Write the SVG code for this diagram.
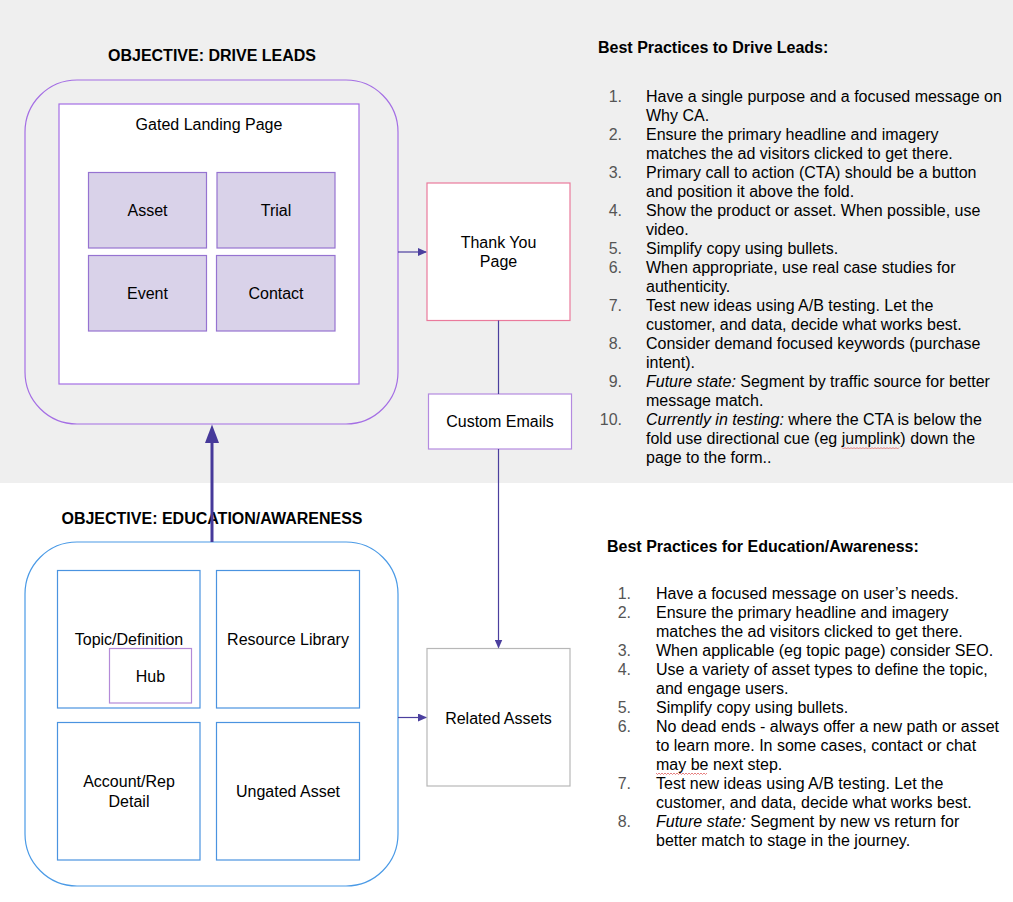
<svg xmlns="http://www.w3.org/2000/svg" width="1013" height="902" viewBox="0 0 1013 902">
<style>
text{font-family:"Liberation Sans",Arial,sans-serif;font-size:16px;fill:#000}
.c{text-anchor:middle}
.b{font-weight:bold}
.n{text-anchor:end;fill:#555}
.i{font-style:italic}
.tile{fill:#d9d2e9;stroke:#9673d1;stroke-width:1.2}
.blue{fill:#fff;stroke:#4a93e0;stroke-width:1.2}
.conn{stroke:#4b3f9e;stroke-width:1.2;fill:none}
</style>
<defs>
<marker id="ah" markerWidth="9" markerHeight="8" refX="8" refY="4" orient="auto" markerUnits="userSpaceOnUse">
<path d="M0,0 L9,4 L0,8 z" fill="#4b3f9e"/>
</marker>
</defs>
<rect x="0" y="0" width="1013" height="483" fill="#efefef"/>

<text class="b c" x="212" y="61">OBJECTIVE: DRIVE LEADS</text>
<text class="b c" x="212" y="524">OBJECTIVE: EDUCATION/AWARENESS</text>

<g id="drive-leads">
<rect x="25" y="80" width="373" height="344" rx="52" fill="none" stroke="#a46ee4" stroke-width="1.2"/>
</g>
<g id="gated-landing-page">
<rect x="59" y="104" width="300" height="280" fill="#fff" stroke="#a46ee4" stroke-width="1.2"/>
<text class="c" x="209" y="130">Gated Landing Page</text>
</g>
<g id="asset"><rect class="tile" x="88.5" y="172.5" width="118" height="75.5"/><text class="c" x="147.5" y="216">Asset</text></g>
<g id="trial"><rect class="tile" x="217" y="172.5" width="118" height="75.5"/><text class="c" x="276" y="216">Trial</text></g>
<g id="event"><rect class="tile" x="88.5" y="255.5" width="118" height="75.5"/><text class="c" x="147.5" y="299">Event</text></g>
<g id="contact"><rect class="tile" x="216.5" y="255.5" width="118.5" height="75.5"/><text class="c" x="276" y="299">Contact</text></g>

<g id="thank-you">
<rect x="427" y="183" width="143" height="137.5" fill="#fff" stroke="#ea7a9c" stroke-width="1.2"/>
<text class="c" x="498.5" y="248">Thank You</text>
<text class="c" x="498.5" y="267">Page</text>
</g>
<g id="custom-emails">
<rect x="428.5" y="394" width="143" height="55" fill="#fff" stroke="#b48ae0" stroke-width="1.2"/>
<text class="c" x="500" y="427">Custom Emails</text>
</g>
<g id="related-assets">
<rect x="427" y="648.5" width="143" height="137.5" fill="#fff" stroke="#b7b7b7" stroke-width="1.2"/>
<text class="c" x="498.5" y="724">Related Assets</text>
</g>

<g id="education">
<rect x="25" y="542" width="373" height="344" rx="52" fill="#fff" stroke="#4a9ae6" stroke-width="1.2"/>
</g>
<g id="topic"><rect class="blue" x="57.5" y="570.5" width="142.5" height="137.5"/><text class="c" x="129" y="645">Topic/Definition</text></g>
<g id="hub"><rect x="109.5" y="648.5" width="82" height="54.5" fill="#fff" stroke="#b48ad8" stroke-width="1.2"/><text class="c" x="150.5" y="682">Hub</text></g>
<g id="resource-library"><rect class="blue" x="216.5" y="570.5" width="143" height="137.5"/><text class="c" x="288" y="645">Resource Library</text></g>
<g id="account-rep"><rect class="blue" x="57.5" y="722.5" width="142.5" height="137.5"/><text class="c" x="129" y="787">Account/Rep</text><text class="c" x="129" y="806.5">Detail</text></g>
<g id="ungated-asset"><rect class="blue" x="216.5" y="722.5" width="143" height="137.5"/><text class="c" x="288" y="797">Ungated Asset</text></g>

<g id="connectors">
<line class="conn" x1="398" y1="252" x2="426" y2="252" marker-end="url(#ah)"/>
<line class="conn" x1="498.5" y1="320.5" x2="498.5" y2="394"/>
<line class="conn" x1="498.5" y1="449" x2="498.5" y2="647.5" marker-end="url(#ah)"/>
<line class="conn" x1="398" y1="717.5" x2="426" y2="717.5" marker-end="url(#ah)"/>
<line x1="212" y1="542" x2="212" y2="440" stroke="#46399a" stroke-width="3"/>
<path d="M205,443 L219,443 L212,424.5 z" fill="#46399a"/>
</g>

<g id="drive-leads-practices">
<text class="b" x="598" y="53">Best Practices to Drive Leads:</text>
<text class="n" x="622" y="101.5">1.</text><text x="646" y="101.5">Have a single purpose and a focused message on</text>
<text x="646" y="120.5">Why CA.</text>
<text class="n" x="622" y="139.5">2.</text><text x="646" y="139.5">Ensure the primary headline and imagery</text>
<text x="646" y="158.5">matches the ad visitors clicked to get there.</text>
<text class="n" x="622" y="177.5">3.</text><text x="646" y="177.5">Primary call to action (CTA) should be a button</text>
<text x="646" y="196.5">and position it above the fold.</text>
<text class="n" x="622" y="215.5">4.</text><text x="646" y="215.5">Show the product or asset. When possible, use</text>
<text x="646" y="234.5">video.</text>
<text class="n" x="622" y="253.5">5.</text><text x="646" y="253.5">Simplify copy using bullets.</text>
<text class="n" x="622" y="272.5">6.</text><text x="646" y="272.5">When appropriate, use real case studies for</text>
<text x="646" y="291.5">authenticity.</text>
<text class="n" x="622" y="310.5">7.</text><text x="646" y="310.5">Test new ideas using A/B testing. Let the</text>
<text x="646" y="329.5">customer, and data, decide what works best.</text>
<text class="n" x="622" y="348.5">8.</text><text x="646" y="348.5">Consider demand focused keywords (purchase</text>
<text x="646" y="367.5">intent).</text>
<text class="n" x="622" y="386.5">9.</text><text x="646" y="386.5"><tspan class="i">Future state:</tspan> Segment by traffic source for better</text>
<text x="646" y="405.5">message match.</text>
<text class="n" x="622" y="424.5">10.</text><text x="646" y="424.5"><tspan class="i">Currently in testing:</tspan> where the CTA is below the</text>
<text x="646" y="443.5">fold use directional cue (eg jumplink) down the</text>
<text x="646" y="462.5">page to the form..</text>
<path d="M842,447.5 l1.5,1.5 l1.5,-1.5 l1.5,1.5 l1.5,-1.5 l1.5,1.5 l1.5,-1.5 l1.5,1.5 l1.5,-1.5 l1.5,1.5 l1.5,-1.5 l1.5,1.5 l1.5,-1.5 l1.5,1.5 l1.5,-1.5 l1.5,1.5 l1.5,-1.5 l1.5,1.5 l1.5,-1.5 l1.5,1.5 l1.5,-1.5 l1.5,1.5 l1.5,-1.5 l1.5,1.5 l1.5,-1.5 l1.5,1.5 l1.5,-1.5 l1.5,1.5 l1.5,-1.5 l1.5,1.5 l1.5,-1.5 l1.5,1.5 l1.5,-1.5 l1.5,1.5 l1.5,-1.5 l1.5,1.5 l1.5,-1.5 l1.5,1.5 l1.5,-1.5" fill="none" stroke="#e06060" stroke-width="0.8"/>
</g>

<g id="education-practices">
<text class="b" x="607" y="552">Best Practices for Education/Awareness:</text>
<text class="n" x="631" y="598.5">1.</text><text x="656" y="598.5">Have a focused message on user’s needs.</text>
<text class="n" x="631" y="617.5">2.</text><text x="656" y="617.5">Ensure the primary headline and imagery</text>
<text x="656" y="636.5">matches the ad visitors clicked to get there.</text>
<text class="n" x="631" y="655.5">3.</text><text x="656" y="655.5">When applicable (eg topic page) consider SEO.</text>
<text class="n" x="631" y="674.5">4.</text><text x="656" y="674.5">Use a variety of asset types to define the topic,</text>
<text x="656" y="693.5">and engage users.</text>
<text class="n" x="631" y="712.5">5.</text><text x="656" y="712.5">Simplify copy using bullets.</text>
<text class="n" x="631" y="731.5">6.</text><text x="656" y="731.5">No dead ends - always offer a new path or asset</text>
<text x="656" y="750.5">to learn more. In some cases, contact or chat</text>
<text x="656" y="769.5">may be next step.</text>
<text class="n" x="631" y="789">7.</text><text x="656" y="789">Test new ideas using A/B testing. Let the</text>
<text x="656" y="808">customer, and data, decide what works best.</text>
<text class="n" x="631" y="827">8.</text><text x="656" y="827"><tspan class="i">Future state:</tspan> Segment by new vs return for</text>
<text x="656" y="846">better match to stage in the journey.</text>
<path d="M656,773 l1.5,1.5 l1.5,-1.5 l1.5,1.5 l1.5,-1.5 l1.5,1.5 l1.5,-1.5 l1.5,1.5 l1.5,-1.5 l1.5,1.5 l1.5,-1.5 l1.5,1.5 l1.5,-1.5 l1.5,1.5 l1.5,-1.5 l1.5,1.5 l1.5,-1.5 l1.5,1.5 l1.5,-1.5 l1.5,1.5 l1.5,-1.5 l1.5,1.5 l1.5,-1.5 l1.5,1.5 l1.5,-1.5 l1.5,1.5 l1.5,-1.5 l1.5,1.5 l1.5,-1.5 l1.5,1.5 l1.5,-1.5 l1.5,1.5 l1.5,-1.5 l1.5,1.5 l1.5,-1.5" fill="none" stroke="#e06060" stroke-width="0.8"/>
</g>
</svg>
